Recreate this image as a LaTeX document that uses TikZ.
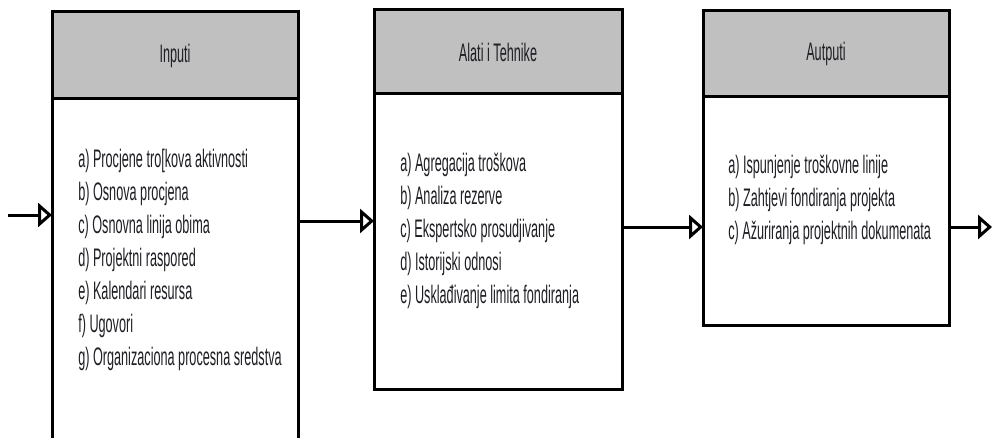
\documentclass[tikz,border=0pt]{standalone}
\usepackage{fontspec}
\setmainfont{Liberation Sans}[FakeStretch=0.5]
\usetikzlibrary{arrows.meta,positioning}
\definecolor{headgray}{RGB}{192,192,192}
\definecolor{ink}{RGB}{30,30,36}
\newcommand\lbl{\fontsize{19}{24.75}\selectfont}
\tikzset{
  head/.style={draw, line width=2.25pt, fill=headgray, inner sep=0pt, outer sep=0pt, font=\lbl, text=ink},
  body/.style={draw, line width=2.25pt, fill=white, inner sep=0pt, outer sep=0pt},
  items/.style={align=left, inner sep=0pt, anchor=north west, font=\lbl, text=ink},
  flow/.style={line width=2.25pt, -{Triangle[open, length=10.5pt, width=18pt]}}
}
\begin{document}
\begin{tikzpicture}[x=0.75pt, y=-0.75pt]
  \useasboundingbox (0,0) rectangle (994,438);

  % inputi
  \node[head, minimum width=184.5pt, minimum height=65.25pt] (inHead) at (175,55.5) {Inputi};
  \node[body, minimum width=184.5pt, minimum height=260pt, below=0pt of inHead] (inBody) {};
  \node[items] (inList) at (78,149) {a) Procjene tro[kova aktivnosti\\
    b) Osnova procjena\\
    c) Osnovna linija obima\\
    d) Projektni raspored\\
    e) Kalendari resursa\\
    f) Ugovori\\
    g) Organizaciona procesna sredstva};

  % alati i tehnike
  \node[head, minimum width=186pt, minimum height=63pt] (toolHead) at (498,52) {Alati i Tehnike};
  \node[body, minimum width=186pt, minimum height=221.25pt, below=0pt of toolHead] (toolBody) {};
  \node[items] (toolList) at (400,153) {a) Agregacija troškova\\
    b) Analiza rezerve\\
    c) Ekspertsko prosudjivanje\\
    d) Istorijski odnosi\\
    e) Usklađivanje limita fondiranja};

  % autputi
  \node[head, minimum width=184.5pt, minimum height=64.5pt] (outHead) at (826,54) {Autputi};
  \node[body, minimum width=184.5pt, minimum height=171pt, below=0pt of outHead] (outBody) {};
  \node[items] (outList) at (728,155) {a) Ispunjenje troškovne linije\\
    b) Zahtjevi fondiranja projekta\\
    c) Ažuriranja projektnih dokumenata};

  \coordinate (src) at (8,215);
  \coordinate (sink) at (992,227);
  \draw[flow] (src) -- (src -| inBody.west);
  \draw[flow] (inBody.east |- 0,221) -- (toolBody.west |- 0,221);
  \draw[flow] (toolBody.east |- 0,227) -- (outBody.west |- 0,227);
  \draw[flow] (outBody.east |- sink) -- (sink);
\end{tikzpicture}
\end{document}
